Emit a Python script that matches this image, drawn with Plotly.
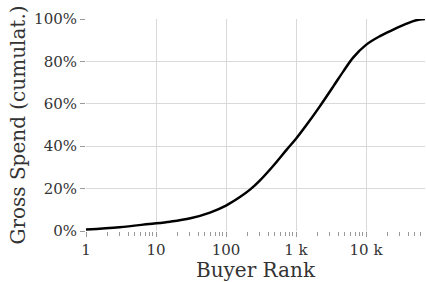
import plotly.graph_objects as go
import math

ranks = [1, 3, 8, 16, 31, 59, 100, 158, 220, 306, 474, 736, 1000, 1435, 2200,
         3410, 4740, 6590, 10000, 15800, 24600, 38000, 52000, 69600]
cum_pct = [0.7, 1.8, 3.3, 4.4, 6.0, 8.7, 12.0, 16.0, 19.5, 23.9, 30.8, 38.4, 43.5, 50.3, 58.9,
           68.2, 75.3, 81.9, 87.8, 91.9, 95.0, 97.8, 99.4, 100.0]

x_tickvals = [1, 10, 100, 1000, 10000]
x_ticktext = ["1", "10", "100", "1 k", "10 k"]
y_tickvals = [0, 20, 40, 60, 80, 100]
y_ticktext = ["0%", "20%", "40%", "60%", "80%", "100%"]
minor_vals = [m * 10 ** d for d in range(0, 5) for m in range(2, 10)]

FONT = "DejaVu Serif"
TXT = "#333333"
GRID = "#d9d9d9"

fig = go.Figure(go.Scatter(x=ranks, y=cum_pct, mode="lines",
                           line=dict(color="black", width=2.5, shape="spline", smoothing=1.0)))

fig.update_layout(
    width=426, height=282,
    margin=dict(l=86, r=1, t=19, b=51, autoexpand=False),
    paper_bgcolor="white", plot_bgcolor="white",
    showlegend=False,
    font=dict(family=FONT, color=TXT, size=15),
)
fig.update_xaxes(
    type="log", range=[0, math.log10(69600)],
    tickmode="array", tickvals=x_tickvals, ticktext=x_ticktext,
    ticks="outside", ticklen=5, tickcolor="#999999",
    showgrid=True, gridcolor=GRID, gridwidth=1,
    showline=False, zeroline=False, automargin=False,
    minor=dict(tickmode="array", tickvals=minor_vals, ticks="outside", ticklen=4,
               tickcolor="#999999", showgrid=False),
    title=dict(text="Buyer Rank", font=dict(family=FONT, size=20, color=TXT), standoff=0),
    tickfont=dict(family=FONT, size=15, color=TXT),
)
fig.update_yaxes(
    range=[0, 100],
    tickmode="array", tickvals=y_tickvals, ticktext=y_ticktext,
    ticks="outside", ticklen=5, tickcolor="#999999",
    showgrid=True, gridcolor=GRID, gridwidth=1,
    showline=False, zeroline=False, automargin=False,
    title=dict(text="Gross Spend (cumulat.)", font=dict(family=FONT, size=20, color=TXT), standoff=3),
    tickfont=dict(family=FONT, size=15, color=TXT),
)

fig.write_html("out.html", config={"displayModeBar": False},
               post_script="document.body.style.margin='0';document.body.style.padding='0';")
